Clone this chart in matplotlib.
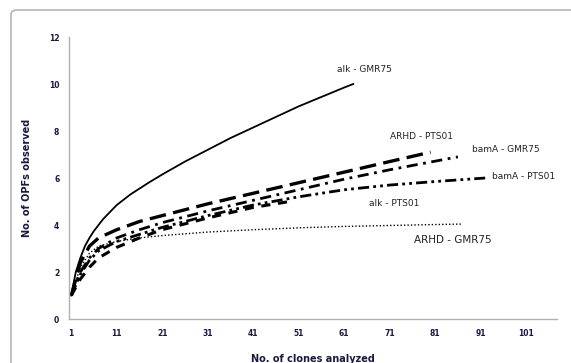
import matplotlib
matplotlib.use('Agg')
import matplotlib.pyplot as plt
from matplotlib.patches import FancyBboxPatch

# values
alk_gmr_x = [1, 2, 3, 4, 5, 6, 8, 11, 14, 18, 21, 26, 31, 36, 41, 46, 51, 56, 61, 63]
alk_gmr_y = [1, 2.0, 2.6, 3.1, 3.45, 3.75, 4.25, 4.85, 5.3, 5.8, 6.15, 6.7, 7.2, 7.7, 8.15, 8.6, 9.05, 9.45, 9.85, 10.0]

arhd_pts_x = [1, 3, 5, 7, 11, 16, 21, 26, 31, 41, 51, 61, 71, 80]
arhd_pts_y = [1, 2.4, 3.1, 3.45, 3.8, 4.15, 4.4, 4.65, 4.9, 5.35, 5.8, 6.25, 6.7, 7.1]

bama_gmr_x = [1, 3, 5, 7, 11, 16, 21, 31, 41, 51, 61, 71, 86]
bama_gmr_y = [1, 2.0, 2.6, 3.0, 3.45, 3.8, 4.1, 4.6, 5.05, 5.5, 5.95, 6.35, 6.9]

bama_pts_x = [1, 3, 5, 7, 11, 16, 21, 31, 41, 51, 61, 71, 81, 92]
bama_pts_y = [1, 1.9, 2.5, 2.9, 3.3, 3.6, 3.9, 4.4, 4.85, 5.2, 5.5, 5.7, 5.85, 6.0]

alk_pts_x = [1, 3, 5, 7, 11, 16, 21, 31, 41, 49]
alk_pts_y = [1, 1.7, 2.2, 2.6, 3.05, 3.45, 3.8, 4.3, 4.75, 5.0]

arhd_gmr_x = [1, 3, 5, 7, 11, 16, 21, 31, 41, 51, 61, 71, 81, 87]
arhd_gmr_y = [1, 2.2, 2.8, 3.1, 3.3, 3.45, 3.55, 3.7, 3.8, 3.88, 3.94, 3.98, 4.02, 4.04]

xticks = [1, 11, 21, 31, 41, 51, 61, 71, 81, 91, 101]
yticks = [0, 2, 4, 6, 8, 10, 12]

fig = plt.figure(figsize=(5.71, 3.63), dpi=100)
ax = fig.add_axes([0.1208, 0.1212, 0.8547, 0.7768])

# rounded frame around the chart
frame = FancyBboxPatch((11 / 571, -0.2), 1.0, 1.2 - 10 / 363,
                       boxstyle='round,pad=0,rounding_size=0.012',
                       transform=fig.transFigure, fill=False,
                       edgecolor='#b5b5b5', linewidth=1.2, clip_on=False)
fig.patches.append(frame)

ax.plot(alk_gmr_x, alk_gmr_y, color='black', lw=1.3)
ax.plot(arhd_pts_x, arhd_pts_y, color='black', lw=2.4, linestyle=(0, (5, 2.2)))
ax.plot(bama_gmr_x, bama_gmr_y, color='black', lw=2.0, linestyle=(0, (4, 2, 1, 2)))
ax.plot(bama_pts_x, bama_pts_y, color='black', lw=2.0, linestyle=(0, (4, 1.5, 1, 1.5, 1, 1.5)))
ax.plot(alk_pts_x, alk_pts_y, color='black', lw=2.2, linestyle=(0, (3, 2.5)))
ax.plot(arhd_gmr_x, arhd_gmr_y, color='black', lw=1.0, linestyle=(0, (1, 1.5)))

lab = dict(fontsize=6.5, color='#222222', va='center', ha='left')
ax.text(59.5, 10.6, 'alk - GMR75', **lab)
ax.text(71, 7.75, 'ARHD - PTS01', **lab)
ax.text(89, 7.2, 'bamA - GMR75', **lab)
ax.text(93.5, 6.05, 'bamA - PTS01', **lab)
ax.text(66.5, 4.9, 'alk - PTS01', **lab)
ax.text(76.4, 3.35, 'ARHD - GMR75', fontsize=7.5, color='#222222', va='center', ha='left')

ax.set_xlim(0.5, 107.8)
ax.set_ylim(0, 12)
ax.set_xticks(xticks)
ax.set_yticks(yticks)
ax.tick_params(length=0, labelsize=5.5, labelcolor='#1a1a40', pad=7)
for t in ax.get_xticklabels() + ax.get_yticklabels():
    t.set_fontweight('bold')

for s in ['top', 'right']:
    ax.spines[s].set_visible(False)
for s in ['left', 'bottom']:
    ax.spines[s].set_color('#b0b0b0')
    ax.spines[s].set_linewidth(1.0)

ax.set_ylabel('No. of OPFs observed', fontsize=7, fontweight='bold', color='#1a1a40', labelpad=12)
ax.set_xlabel('No. of clones analyzed', fontsize=7, fontweight='bold', color='#1a1a40', labelpad=12)

fig.savefig('out.png', dpi=100)
